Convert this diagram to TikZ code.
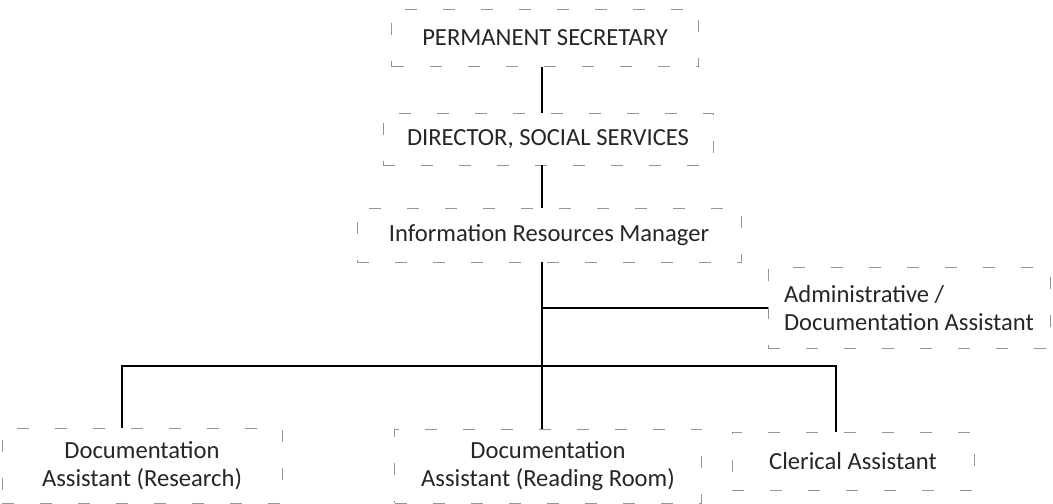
\documentclass[tikz,border=0pt]{standalone}
\usepackage{fontspec}
\setmainfont{Carlito}
\usetikzlibrary{positioning}
\definecolor{scanrule}{RGB}{150,150,150}
\tikzset{
  post/.style={rectangle,draw=scanrule,line width=0.4pt,dash pattern=on 6pt off 13pt,align=center,inner sep=2pt,text=black!85,font=\fontsize{12.3}{14}\selectfont},
  link/.style={line width=0.8pt,black}
}
\begin{document}
\begin{tikzpicture}[x=0.5pt,y=-0.5pt]
  \useasboundingbox (0,0) rectangle (1053,503);
  % top chain
  \node[post,minimum width=153.5pt,minimum height=28.5pt] (ps) at (545,38) {PERMANENT SECRETARY};
  \node[post,minimum width=165pt,minimum height=26pt] (dir) at (548,139) {DIRECTOR, SOCIAL SERVICES};
  \node[post,minimum width=192pt,minimum height=27pt] (irm) at (549,235) {Information Resources Manager};
  % staff
  \node[post,align=left,minimum width=141pt,minimum height=40.5pt] (adm) at (909,308) {Administrative /\\Documentation Assistant};
  \node[post,minimum width=140pt,minimum height=37.5pt] (res) at (142,466) {Documentation\\Assistant (Research)};
  \node[post,minimum width=153.5pt,minimum height=37pt] (rr) at (548,466) {Documentation\\Assistant (Reading Room)};
  \node[post,minimum width=121pt,minimum height=29pt] (cler) at (853,461) {Clerical Assistant};
  \coordinate (bus) at (542,366);
  \draw[link] (ps.south -| bus) -- (dir.north -| bus);
  \draw[link] (dir.south -| bus) -- (irm.north -| bus);
  \draw[link] (irm.south -| bus) -- (rr.north -| bus);
  \draw[link] (adm.west -| bus) -- (adm.west);
  \draw[link] ([xshift=-10pt]res.north) |- (bus) -| ([xshift=-8.5pt]cler.north);
\end{tikzpicture}
\end{document}
